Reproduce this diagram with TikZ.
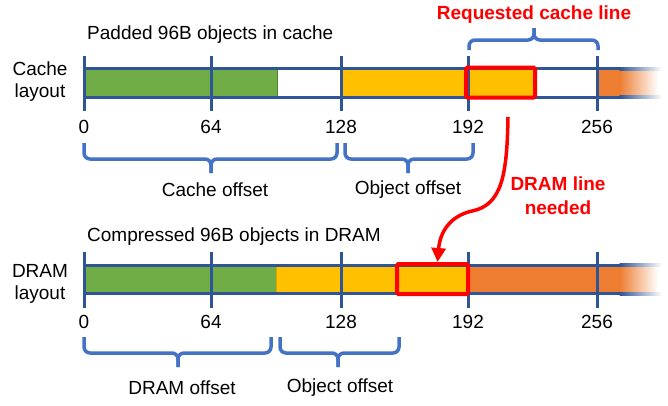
\documentclass[tikz,border=0pt]{standalone}
\usepackage{fontspec}
\setmainfont{Liberation Sans}
\usetikzlibrary{arrows.meta}
\definecolor{cgreen}{HTML}{70AD47}
\definecolor{cgreenD}{HTML}{548235}
\definecolor{cgold}{HTML}{FFC000}
\definecolor{cgoldD}{HTML}{D9A300}
\definecolor{corange}{HTML}{ED7D31}
\definecolor{cbrace}{HTML}{4472C4}
\definecolor{cbar}{HTML}{2F5597}
\definecolor{cred}{HTML}{FF0000}
\tikzset{
  txt/.style={inner sep=0pt,font=\fontsize{19}{22}\selectfont},
  redtxt/.style={txt,text=cred,font=\fontsize{19}{24}\selectfont\bfseries},
  barline/.style={draw=cbar,line width=3pt},
  tick/.style={draw=cbar,line width=3pt},
  bracepath/.style={draw=cbrace,line width=3.5pt,rounded corners=6pt},
  redbox/.style={draw=cred,line width=4pt,rounded corners=1.5pt},
  redarrow/.style={draw=cred,line width=3.5pt,-{Triangle[length=14pt,width=14pt]}},
}
\newcommand{\mybrace}[6]{% x1,x2,xm,yend,yh,ytip
  \draw[bracepath] (#1,#4) -- (#1,#5) -- (#3,#5) -- (#3,#6);
  \draw[bracepath] (#2,#4) -- (#2,#5) -- (#3,#5) -- (#3,#6);
}
\begin{document}
\begin{tikzpicture}[x=1pt,y=-1pt]
\useasboundingbox (0,0) rectangle (668,405);

% ---------- top bar ----------
\fill[cgreen,draw=cgreenD,line width=0.8pt] (84,69) rectangle (277,97);
\fill[cgold,draw=cgoldD,line width=0.8pt] (341,69) rectangle (535,97);
\fill[corange] (598,69) rectangle (620,97);
\shade[left color=corange,right color=white] (619.5,69) rectangle (658,97);
\draw[barline] (84,68.5) -- (620,68.5);
\draw[barline] (84,97) -- (620,97);
\shade[left color=cbar,right color=white] (619.5,67) rectangle (662,70);
\shade[left color=cbar,right color=white] (619.5,95.5) rectangle (662,98.5);
\foreach \x in {84,211,341,468,597} \draw[tick] (\x,56) -- (\x,111);
\node[redbox,minimum width=69pt,minimum height=30pt,inner sep=0pt] (req) at (500.5,82.5) {};

\node[txt] (t0) at (84,127) {0};
\node[txt] (t64) at (211,127) {64};
\node[txt] (t128) at (341,127) {128};
\node[txt] (t192) at (468,127) {192};
\node[txt] (t256) at (597,127) {256};

\node[txt,anchor=west] (padded) at (87,35) {Padded 96B objects in cache};
\node[txt,align=center] (cachelay) at (40,82) {Cache\\layout};
\node[redtxt] (reqtxt) at (534,15) {Requested cache line};

\mybrace{469}{598}{534}{50}{40}{28}
\mybrace{84}{337}{211}{143}{159}{173}
\mybrace{345}{473}{408}{143}{159}{173}
\node[txt] (coff) at (215,190) {Cache offset};
\node[txt] (ooff1) at (408,190) {Object offset};

% ---------- red arrow label ----------
\node[redtxt,align=center] (dramneed) at (558,196) {DRAM line\\needed};

% ---------- bottom bar ----------
\fill[cgreen,draw=cgreenD,line width=0.8pt] (84,266) rectangle (276,293);
\fill[cgold,draw=cgoldD,line width=0.8pt] (276,266) rectangle (468,293);
\fill[corange] (468,266) rectangle (620,293);
\shade[left color=corange,right color=white] (619.5,266) rectangle (658,293);
\draw[barline] (84,265) -- (620,265);
\draw[barline] (84,293.5) -- (620,293.5);
\shade[left color=cbar,right color=white] (619.5,263.5) rectangle (662,266.5);
\shade[left color=cbar,right color=white] (619.5,292) rectangle (662,295);
\foreach \x in {84,211,341,468,597} \draw[tick] (\x,252) -- (\x,308);
\node[redbox,minimum width=71pt,minimum height=30pt,inner sep=0pt] (dline) at (432.5,279) {};

\node[txt] (b0) at (84,322) {0};
\node[txt] (b64) at (211,322) {64};
\node[txt] (b128) at (341,322) {128};
\node[txt] (b192) at (468,322) {192};
\node[txt] (b256) at (597,322) {256};

\node[txt,anchor=west] (compr) at (87,237) {Compressed 96B objects in DRAM};
\node[txt,align=center] (dramlay) at (40,284) {DRAM\\layout};

\mybrace{84}{271}{178}{337}{353}{367}
\mybrace{280}{399}{338}{337}{353}{367}
\node[txt] (doff) at (182,388) {DRAM offset};
\node[txt] (ooff2) at (340,388) {Object offset};

\coordinate (arrS) at (508,117);
\coordinate (arrE) at ([xshift=5pt]dline.north);
\draw[redarrow] (arrS) .. controls (507,175) and (502,205) .. (472,211) .. controls (450,216) and (440,232) .. (arrE);
\end{tikzpicture}
\end{document}
